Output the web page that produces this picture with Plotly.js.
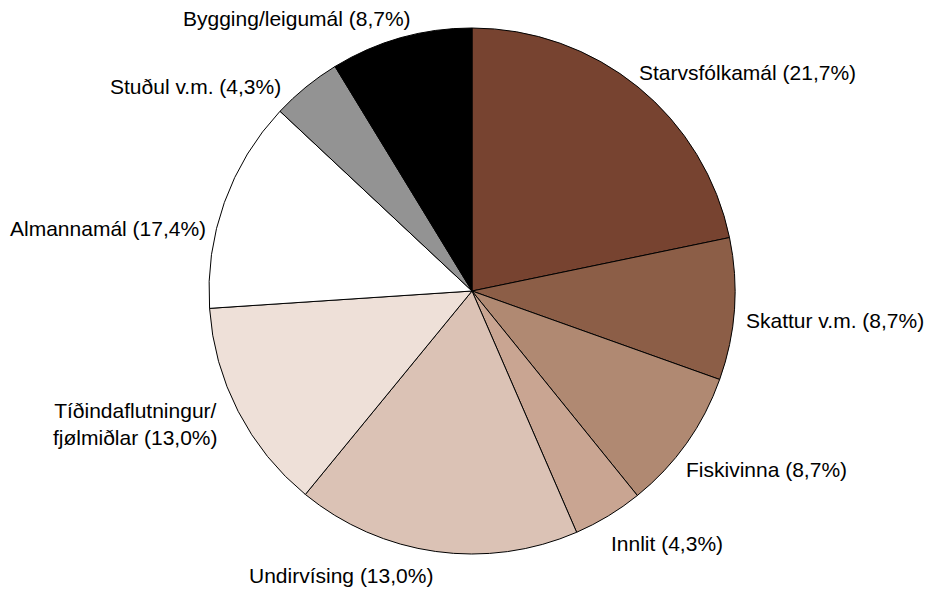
<!DOCTYPE html>
<html>
<head>
<meta charset="utf-8">
<script src="https://cdn.plot.ly/plotly-3.0.1.min.js"></script>
<style>html,body{margin:0;padding:0;background:#fff;}#chart{width:930px;height:589px;}</style>
</head>
<body>
<div id="chart"></div>
<script>
const categories = ["Starvsfólkamál", "Skattur v.m.", "Fiskivinna", "Innlit", "Undirvísing", "Tíðindaflutningur/<br>fjølmiðlar", "Almannamál", "Stuðul v.m.", "Bygging/leigumál"];
const sliceValues = [21.7, 8.7, 8.7, 4.3, 17.4, 13.0, 13.0, 4.3, 8.7];
const labelPercents = ["21,7%", "8,7%", "8,7%", "4,3%", "13,0%", "13,0%", "17,4%", "4,3%", "8,7%"];
const colors = ["#774330", "#8C5E47", "#B08972", "#C9A592", "#DBC2B5", "#EEE0D8", "#FFFFFF", "#939393", "#000000"];

// label placement (pixels) — layout only
const labelPos = [
  {x: 637, y: 73, anchor: "left"},
  {x: 744, y: 320, anchor: "left"},
  {x: 684, y: 469, anchor: "left"},
  {x: 609, y: 543, anchor: "left"},
  {x: 247, y: 575, anchor: "left"},
  {x: 220, y: 424, anchor: "right"},
  {x: 208, y: 228, anchor: "right"},
  {x: 283, y: 86, anchor: "right"},
  {x: 413, y: 19, anchor: "right"}
];

const W = 930, H = 589;
const cx = 472, cy = 291, r = 263;

const annotations = categories.map((c, i) => ({
  xref: "paper", yref: "paper",
  x: labelPos[i].x / W, y: 1 - labelPos[i].y / H,
  xanchor: labelPos[i].anchor, yanchor: "middle",
  text: c + " (" + labelPercents[i] + ")",
  showarrow: false, align: "center",
  font: {family: "Liberation Sans, Arial, sans-serif", size: 21, color: "#000"}
}));

const trace = {
  type: "pie",
  values: sliceValues,
  labels: categories,
  sort: false,
  direction: "clockwise",
  rotation: 0,
  textinfo: "none",
  hoverinfo: "label+value",
  marker: {colors: colors, line: {color: "#000", width: 1}},
  domain: {x: [(cx - r) / W, (cx + r) / W], y: [(H - cy - r) / H, (H - cy + r) / H]},
  showlegend: false
};

Plotly.newPlot("chart", [trace], {
  width: W, height: H,
  margin: {l: 0, r: 0, t: 0, b: 0},
  paper_bgcolor: "#fff",
  showlegend: false,
  annotations: annotations
}, {staticPlot: true});
</script>
</body>
</html>
